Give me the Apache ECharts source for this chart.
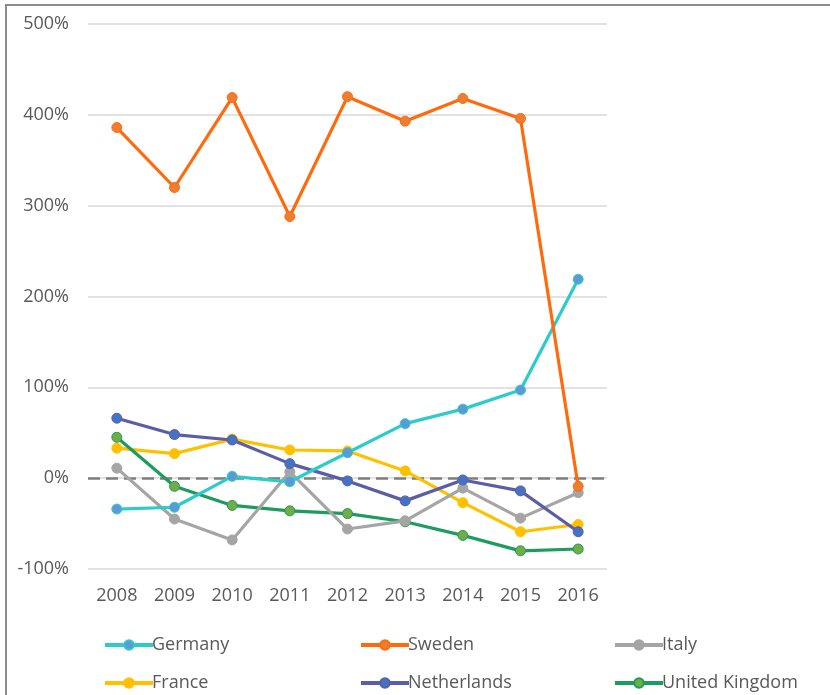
<!DOCTYPE html>
<html>
<head>
<meta charset="utf-8">
<script src="https://cdn.jsdelivr.net/npm/echarts@6/dist/echarts.min.js"></script>
<style>
html,body{margin:0;padding:0;background:#fff;}
#frame{position:absolute;left:5px;top:4px;width:830px;height:695px;border-top:2px solid #8c8c8c;border-left:2px solid #8c8c8c;box-sizing:border-box;}
#chart{position:absolute;left:0;top:0;width:830px;height:695px;}
</style>
</head>
<body>
<div id="frame"></div>
<div id="chart"></div>
<script>
const years = ['2008','2009','2010','2011','2012','2013','2014','2015','2016'];
const germany = [-34, -32, 2, -4, 28, 60, 76, 97, 219];
const sweden = [386, 320, 419, 288, 420, 393, 418, 396, -9];
const italy = [11, -45, -68, 7, -56, -47, -11, -44, -16];
const france = [33, 27, 43, 31, 30, 8, -27, -59, -51];
const netherlands = [66, 48, 42, 16, -3, -25, -2, -14, -59];
const uk = [45, -9, -30, -36, -39, -48, -63, -80, -78];
const yTicks = [-100, 0, 100, 200, 300, 400, 500];

const FONT = '"Open Sans", "Noto Sans", sans-serif';
function s(name, data, lineColor, markColor, z, extra) {
  return Object.assign({
    name: name, type: 'line', data: data, z: z,
    symbol: 'circle', symbolSize: 10,
    lineStyle: {color: lineColor, width: 3.2},
    itemStyle: {color: markColor, borderColor: lineColor, borderWidth: 1},
    color: lineColor
  }, extra || {});
}
function lg(name, left, top) {
  return {data: [name], left: left, top: top, orient: 'horizontal', itemWidth: 48, itemHeight: 12,
    lineStyle: {width: 4},
    textStyle: {color: '#595959', fontSize: 18, fontFamily: FONT, padding: [0,0,0,-6]}};
}
const chart = echarts.init(document.getElementById('chart'), null, {renderer: 'canvas'});
chart.setOption({
  animation: false,
  textStyle: {fontFamily: FONT},
  grid: {left: 88, right: 223, top: 24, bottom: 126, containLabel: false},
  xAxis: {
    type: 'category', data: years, boundaryGap: true,
    axisLine: {show: false}, axisTick: {show: false},
    axisLabel: {color: '#595959', fontSize: 18, margin: 18, fontFamily: FONT}
  },
  yAxis: {
    type: 'value', min: yTicks[0], max: yTicks[yTicks.length - 1], interval: 100,
    axisLine: {show: false}, axisTick: {show: false},
    splitLine: {lineStyle: {color: '#d9d9d9', width: 1.5}},
    axisLabel: {color: '#595959', fontSize: 18, margin: 19, fontFamily: FONT, formatter: v => v + '%'}
  },
  legend: [
    lg('Germany', 98, 631), lg('Sweden', 354, 631), lg('Italy', 608, 631),
    lg('France', 98, 669), lg('Netherlands', 354, 669), lg('United Kingdom', 608, 669)
  ],
  series: [
    s('Germany', germany, '#2ECBCB', '#5B9BD5', 5),
    s('Sweden', sweden, '#FF6A0D', '#ED7D31', 6, {
      markLine: {silent: true, symbol: 'none', label: {show: false},
        lineStyle: {color: '#7f7f7f', type: [12, 6], width: 2.5},
        data: [{yAxis: 0}], z: 1}
    }),
    s('Italy', italy, '#A5A5A5', '#A5A5A5', 4),
    s('France', france, '#FFC000', '#FFC000', 3),
    s('Netherlands', netherlands, '#5B5EA6', '#4472C4', 4),
    s('United Kingdom', uk, '#1E9B5E', '#70AD47', 3)
  ]
});
</script>
</body>
</html>
